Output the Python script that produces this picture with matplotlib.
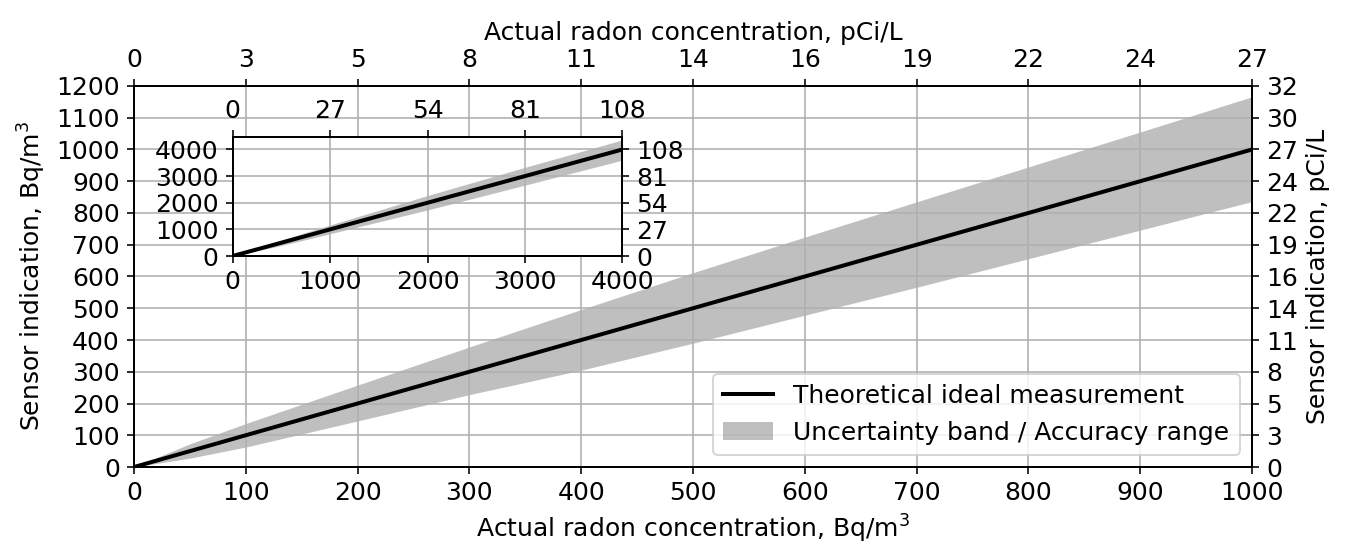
import numpy as np
import matplotlib.pyplot as plt

plt.rcParams['font.size'] = 12.5

# main plot: actual concentration (Bq/m3) vs band edges
conc = [0, 50, 100, 200, 300, 400, 500, 600, 700, 800, 900, 1000]
band_hi = [0, 73, 137, 258, 378, 496, 612, 724, 835, 945, 1055, 1166]
band_lo = [0, 28, 63, 145, 228, 305, 390, 478, 566, 656, 746, 836]
ideal_x = [0, 1000]
ideal_y = [0, 1000]

# inset: wider range
conc_in = [0, 500, 1000, 2000, 3000, 4000]
band_hi_in = [0, 600, 1166, 2270, 3330, 4360]
band_lo_in = [0, 395, 836, 1730, 2660, 3600]
ideal_x_in = [0, 4000]
ideal_y_in = [0, 4000]

# tick labels
xticks = list(range(0, 1001, 100))
xticks_pci = ['0', '3', '5', '8', '11', '14', '16', '19', '22', '24', '27']
yticks = list(range(0, 1201, 100))
yticks_pci = ['0', '3', '5', '8', '11', '14', '16', '19', '22', '24', '27', '30', '32']
ticks_in = [0, 1000, 2000, 3000, 4000]
ticks_in_pci = ['0', '27', '54', '81', '108']

fig = plt.figure(figsize=(1345 / 144, 544 / 144), dpi=144)
ax = fig.add_axes([0.0996, 0.1415, 0.8313, 0.7005])

band = ax.fill_between(conc, band_lo, band_hi, color='gray', alpha=0.5, linewidth=0,
                       label='Uncertainty band / Accuracy range')
line, = ax.plot(ideal_x, ideal_y, color='black', lw=2, label='Theoretical ideal measurement')
ax.set_xlim(0, 1000)
ax.set_ylim(0, 1200)
ax.set_xticks(xticks)
ax.set_yticks(yticks)
ax.grid(True)
ax.set_xlabel('Actual radon concentration, Bq/m$^3$')
ax.set_ylabel('Sensor indication, Bq/m$^3$')
ax.legend(handles=[line, band], loc='lower right')

top = ax.twiny()
top.set_xlim(0, 1000)
top.set_xticks(xticks)
top.set_xticklabels(xticks_pci)
top.set_xlabel('Actual radon concentration, pCi/L')

right = ax.twinx()
right.set_ylim(0, 1200)
right.set_yticks(yticks)
right.set_yticklabels(yticks_pci)
right.set_ylabel('Sensor indication, pCi/L')

# inset
ins = fig.add_axes([0.173, 0.5294, 0.2897, 0.2193])
ins.fill_between(conc_in, band_lo_in, band_hi_in, color='gray', alpha=0.5, linewidth=0)
ins.plot(ideal_x_in, ideal_y_in, color='black', lw=2)
ins.set_xlim(0, 4000)
ins.set_ylim(0, 4480)
ins.set_xticks(ticks_in)
ins.set_yticks(ticks_in)
ins.grid(True)

ins_top = ins.twiny()
ins_top.set_xlim(0, 4000)
ins_top.set_xticks(ticks_in)
ins_top.set_xticklabels(ticks_in_pci)

ins_right = ins.twinx()
ins_right.set_ylim(0, 4480)
ins_right.set_yticks(ticks_in)
ins_right.set_yticklabels(ticks_in_pci)

fig.savefig('out.png', dpi=144)
